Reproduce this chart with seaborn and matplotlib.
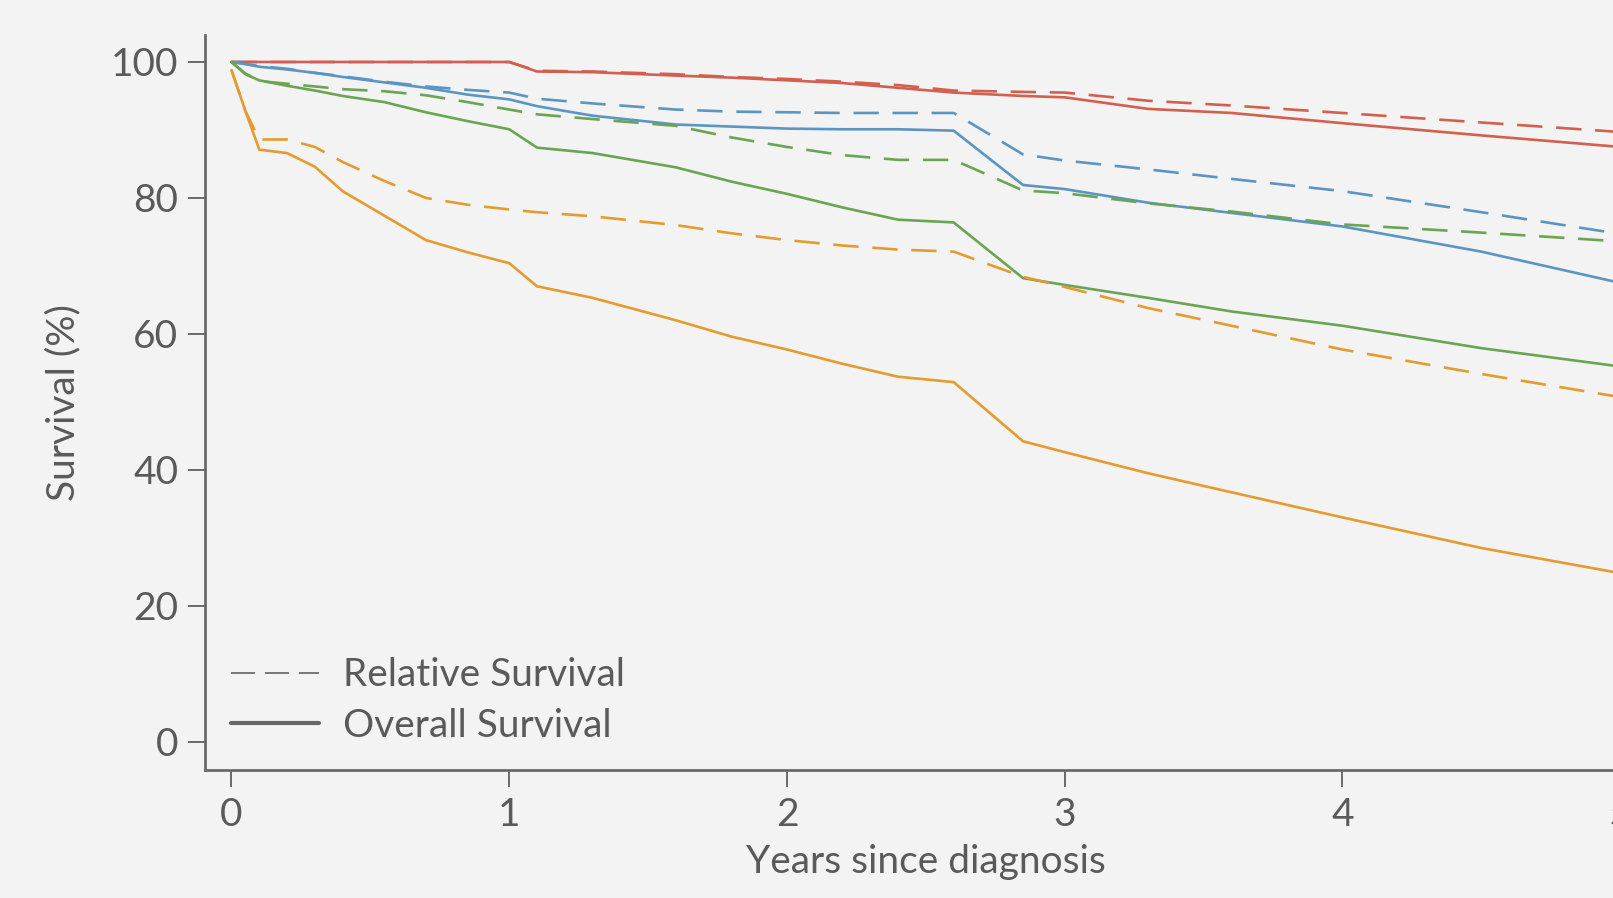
import matplotlib
matplotlib.use("Agg")
import matplotlib.pyplot as plt
from matplotlib.lines import Line2D
import numpy as np
import pandas as pd
import seaborn as sns

# Follow-up time grid (years since diagnosis)
years = [0.0, 0.05, 0.1, 0.2, 0.3, 0.4, 0.55, 0.7, 0.85, 1.0, 1.1, 1.3, 1.6,
         1.8, 2.0, 2.2, 2.4, 2.6, 2.85, 3.0, 3.3, 3.6, 4.0, 4.5, 5.0]

# Overall survival (%) per group
os_red = [100, 100, 100, 100, 100, 100, 100, 100, 100, 100, 98.6, 98.5, 98.0,
          97.7, 97.3, 96.9, 96.2, 95.5, 95.0, 94.8, 93.1, 92.5, 91.0, 89.2, 87.5]
os_blue = [100, 99.7, 99.3, 98.9, 98.4, 97.8, 97.0, 96.2, 95.2, 94.5, 93.5, 92.1, 90.8,
           90.5, 90.2, 90.1, 90.1, 89.9, 81.9, 81.3, 79.3, 77.8, 75.8, 72.1, 67.5]
os_green = [100, 98.2, 97.3, 96.5, 95.8, 95.0, 94.1, 92.6, 91.3, 90.1, 87.4, 86.6, 84.5,
            82.4, 80.6, 78.6, 76.8, 76.4, 68.2, 67.2, 65.3, 63.3, 61.2, 57.9, 55.2]
os_orange = [98.8, 92.8, 87.1, 86.6, 84.6, 81.0, 77.4, 73.8, 72.0, 70.4, 67.0, 65.3, 62.0,
             59.6, 57.7, 55.6, 53.7, 52.9, 44.2, 42.6, 39.5, 36.7, 33.0, 28.5, 24.8]

# Relative survival (%) per group
rs_red = [100, 100, 100, 100, 100, 100, 100, 100, 100, 100, 98.7, 98.6, 98.2,
          97.8, 97.5, 97.1, 96.6, 95.8, 95.6, 95.5, 94.3, 93.6, 92.5, 91.1, 89.7]
rs_blue = [100, 99.7, 99.4, 99.0, 98.4, 97.9, 97.1, 96.4, 95.9, 95.5, 94.6, 93.9, 93.0,
           92.7, 92.6, 92.5, 92.5, 92.5, 86.4, 85.5, 84.2, 82.8, 81.0, 77.9, 74.7]
rs_green = [100, 98.3, 97.2, 96.8, 96.4, 96.0, 95.7, 95.1, 94.1, 93.0, 92.3, 91.6, 90.6,
            88.9, 87.5, 86.3, 85.6, 85.6, 81.1, 80.7, 79.2, 78.0, 76.1, 74.9, 73.6]
rs_orange = [98.8, 92.8, 88.6, 88.6, 87.5, 85.3, 82.5, 80.0, 79.0, 78.3, 77.9, 77.3, 76.0,
             74.8, 73.8, 73.0, 72.4, 72.1, 68.4, 66.9, 63.8, 61.2, 57.7, 54.1, 50.7]

groups = ["red", "blue", "green", "orange"]
palette = {"red": "#d3604f", "blue": "#5b95c2", "green": "#6ba452", "orange": "#e59c2e"}
overall = {"red": os_red, "blue": os_blue, "green": os_green, "orange": os_orange}
relative = {"red": rs_red, "blue": rs_blue, "green": rs_green, "orange": rs_orange}

rows = []
for g in groups:
    for t, v in zip(years, overall[g]):
        rows.append({"years": t, "survival": v, "group": g, "measure": "Overall Survival"})
    for t, v in zip(years, relative[g]):
        rows.append({"years": t, "survival": v, "group": g, "measure": "Relative Survival"})
df = pd.DataFrame(rows)

sns.set_theme(style="ticks")
bg = "#f3f3f3"
axis_col = "#6a6a6a"
text_col = "#5a5a5a"
plt.rcParams["font.family"] = ["Lato", "DejaVu Sans"]

W, H = 1613, 898
fig = plt.figure(figsize=(W / 100, H / 100), dpi=100, facecolor=bg)
# axes box in pixels: left spine 205, bottom spine 770, top 35; extends past right edge
ax_left, ax_bottom, ax_top, ax_right = 205, 770, 35, 1648
ax = fig.add_axes([ax_left / W, (H - ax_bottom) / H,
                   (ax_right - ax_left) / W, (ax_bottom - ax_top) / H])
ax.set_facecolor(bg)

dash_rel = (9.6, 5.2)
sns.lineplot(data=df, x="years", y="survival", hue="group", style="measure",
             palette=palette, dashes={"Overall Survival": "", "Relative Survival": dash_rel},
             estimator=None, errorbar=None, linewidth=1.9, legend=False, ax=ax)

ax.set_xlim(-0.0954, 5.1)
ax.set_ylim(-4.16, 103.97)
ax.set_xticks([0, 1, 2, 3, 4, 5])
ax.set_yticks([0, 20, 40, 60, 80, 100])

fs = 28
ax.tick_params(axis="both", length=12.2, width=1.4, color=axis_col,
               labelsize=fs, labelcolor=text_col, direction="out")
ax.tick_params(axis="y", pad=7)
ax.tick_params(axis="x", pad=7)
for side in ["top", "right"]:
    ax.spines[side].set_visible(False)
for side in ["left", "bottom"]:
    ax.spines[side].set_color(axis_col)
    ax.spines[side].set_linewidth(2.0)

ax.set_xlabel("Years since diagnosis", fontsize=fs, color=text_col)
ax.xaxis.set_label_coords((900 * 1613 / 1568 - ax_left) / (ax_right - ax_left), -0.101)
ax.set_ylabel("Survival (%)", fontsize=fs, color=text_col, labelpad=21.5)

handles = [
    Line2D([], [], color="#6e6e6e", linewidth=1.3, linestyle=(0, (13.3, 5.5))),
    Line2D([], [], color="#666666", linewidth=3.0, linestyle="-"),
]
ax.legend(handles, ["Relative Survival", "Overall Survival"], loc="lower left",
          bbox_to_anchor=(0.0072, 0.0141), borderaxespad=0, frameon=False, fontsize=fs,
          labelcolor=text_col, handlelength=2.26, handletextpad=0.61, labelspacing=0.375)

fig.savefig("out.png", dpi=100, facecolor=bg)
